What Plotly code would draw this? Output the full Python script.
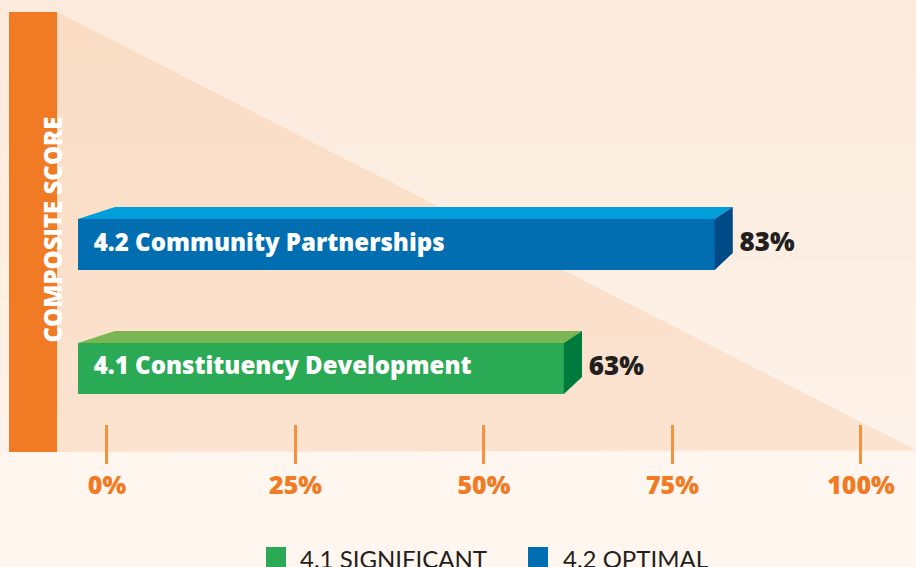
import plotly.graph_objects as go

W, H = 916, 567

CATEGORIES = ["4.1 Constituency Development", "4.2 Community Partnerships"]
SCORES = [63, 83]
LEGEND_LABELS = ["4.1 SIGNIFICANT", "4.2 OPTIMAL"]
TICK_VALUES = [0, 25, 50, 75, 100]
TICK_LABELS = ["0%", "25%", "50%", "75%", "100%"]
AXIS_TITLE = "COMPOSITE SCORE"

FRONT = ["#2BAA55", "#006EB0"]
TOP = ["#7AB752", "#009FDA"]
SIDE = ["#007A3D", "#004A87"]

ORANGE = "#F07B24"
TICK_ORANGE = "#F5923E"
DARK = "#231F20"
BOLD_FONT = "Open Sans"
HEAVY = 800

# bar geometry in data units
BAR_START = -3.85
BAR_H = 0.41
DEPTH_X = 2.4
BEVEL_X = 4.9
DEPTH_Y = 0.097
SIDE_DROP = 0.137


def px_x(px):
    return px / W


def px_y(py):
    return 1 - py / H


fig = go.Figure()

ys = list(range(len(CATEGORIES)))

fig.add_trace(
    go.Bar(
        y=ys,
        x=[s - DEPTH_X - BAR_START for s in SCORES],
        base=BAR_START,
        orientation="h",
        width=BAR_H,
        marker=dict(color=FRONT, line=dict(width=0)),
        hoverinfo="skip",
        showlegend=False,
    )
)

for i, (y, s) in enumerate(zip(ys, SCORES)):
    top = y + BAR_H / 2
    bot = y - BAR_H / 2
    fig.add_trace(
        go.Scatter(
            x=[BAR_START, BAR_START + BEVEL_X, s, s - DEPTH_X, BAR_START],
            y=[top, top + DEPTH_Y, top + DEPTH_Y, top, top],
            fill="toself",
            fillcolor=TOP[i],
            mode="lines",
            line=dict(width=0),
            hoverinfo="skip",
            showlegend=False,
        )
    )
    fig.add_trace(
        go.Scatter(
            x=[s - DEPTH_X, s, s, s - DEPTH_X, s - DEPTH_X],
            y=[top, top + DEPTH_Y, bot + SIDE_DROP, bot, top],
            fill="toself",
            fillcolor=SIDE[i],
            mode="lines",
            line=dict(width=0),
            hoverinfo="skip",
            showlegend=False,
        )
    )

fig.add_trace(
    go.Scatter(
        x=[BAR_START + 2.1] * len(ys),
        y=ys,
        mode="text",
        text=CATEGORIES,
        textposition="middle right",
        textfont=dict(family=BOLD_FONT, size=24, color="white", weight=HEAVY),
        hoverinfo="skip",
        showlegend=False,
    )
)

fig.add_trace(
    go.Scatter(
        x=[s + 0.9 for s in SCORES],
        y=ys,
        mode="text",
        text=[f"{s}%" for s in SCORES],
        textposition="middle right",
        textfont=dict(family=BOLD_FONT, size=26, color=DARK, weight=HEAVY),
        hoverinfo="skip",
        showlegend=False,
    )
)

shapes = []
# background bands above the axis
n_bands = 12
top_rgb = (252, 234, 220)
bot_rgb = (253, 242, 233)
band_bottom = 452
for k in range(n_bands):
    t = k / (n_bands - 1)
    c = tuple(round(a + (b - a) * t) for a, b in zip(top_rgb, bot_rgb))
    y0 = band_bottom * k / n_bands
    y1 = band_bottom * (k + 1) / n_bands
    shapes.append(dict(
        type="rect", xref="paper", yref="paper",
        x0=0, x1=1, y0=px_y(y1), y1=px_y(y0),
        fillcolor=f"rgb{c}", line=dict(width=0), layer="below",
    ))
# triangle
shapes.append(dict(
    type="path", xref="paper", yref="paper",
    path=f"M {px_x(57)},{px_y(12)} L {px_x(916)},{px_y(450)} L {px_x(57)},{px_y(452)} Z",
    fillcolor="rgba(240,150,80,0.165)", line=dict(width=0), layer="below",
))
# orange side panel
shapes.append(dict(
    type="rect", xref="paper", yref="paper",
    x0=px_x(9), x1=px_x(57), y0=px_y(452), y1=px_y(12),
    fillcolor=ORANGE, line=dict(width=0), layer="below",
))

annotations = [
    dict(
        text=AXIS_TITLE, xref="paper", yref="paper",
        x=px_x(33), y=px_y(230), textangle=-90, showarrow=False,
        font=dict(family=BOLD_FONT, size=24, color="white", weight=HEAVY),
    )
]

# legend
legend_sq = [266, 528]
legend_tx = [298, 561]
for i, label in enumerate(LEGEND_LABELS):
    shapes.append(dict(
        type="rect", xref="paper", yref="paper",
        x0=px_x(legend_sq[i]), x1=px_x(legend_sq[i] + 20),
        y0=px_y(567), y1=px_y(547),
        fillcolor=FRONT[i], line=dict(width=0),
    ))
    annotations.append(dict(
        text=label, xref="paper", yref="paper",
        x=px_x(legend_tx[i]), y=px_y(558), xanchor="left", yanchor="middle",
        showarrow=False,
        font=dict(family="Lato", size=24, color=DARK, weight=400),
    ))

fig.update_layout(
    width=W,
    height=H,
    margin=dict(l=0, r=0, t=0, b=0),
    paper_bgcolor="#FEF6EF",
    plot_bgcolor="rgba(0,0,0,0)",
    shapes=shapes,
    annotations=annotations,
    bargap=0,
    xaxis=dict(
        range=[-14.19, 107.3],
        anchor="free",
        position=px_y(424),
        tickvals=TICK_VALUES,
        ticktext=TICK_LABELS,
        ticks="outside",
        ticklen=39,
        tickwidth=3,
        tickcolor=TICK_ORANGE,
        tickfont=dict(family=BOLD_FONT, size=25, color=ORANGE, weight=HEAVY),
        showline=False,
        showgrid=False,
        zeroline=False,
        fixedrange=True,
    ),
    yaxis=dict(
        range=[-1.601, 2.972],
        visible=False,
        fixedrange=True,
    ),
)

fig.write_html(
    "out.html",
    config={"displayModeBar": False},
    post_script="document.body.style.margin='0';document.body.style.background='#FEF6EF';",
)
